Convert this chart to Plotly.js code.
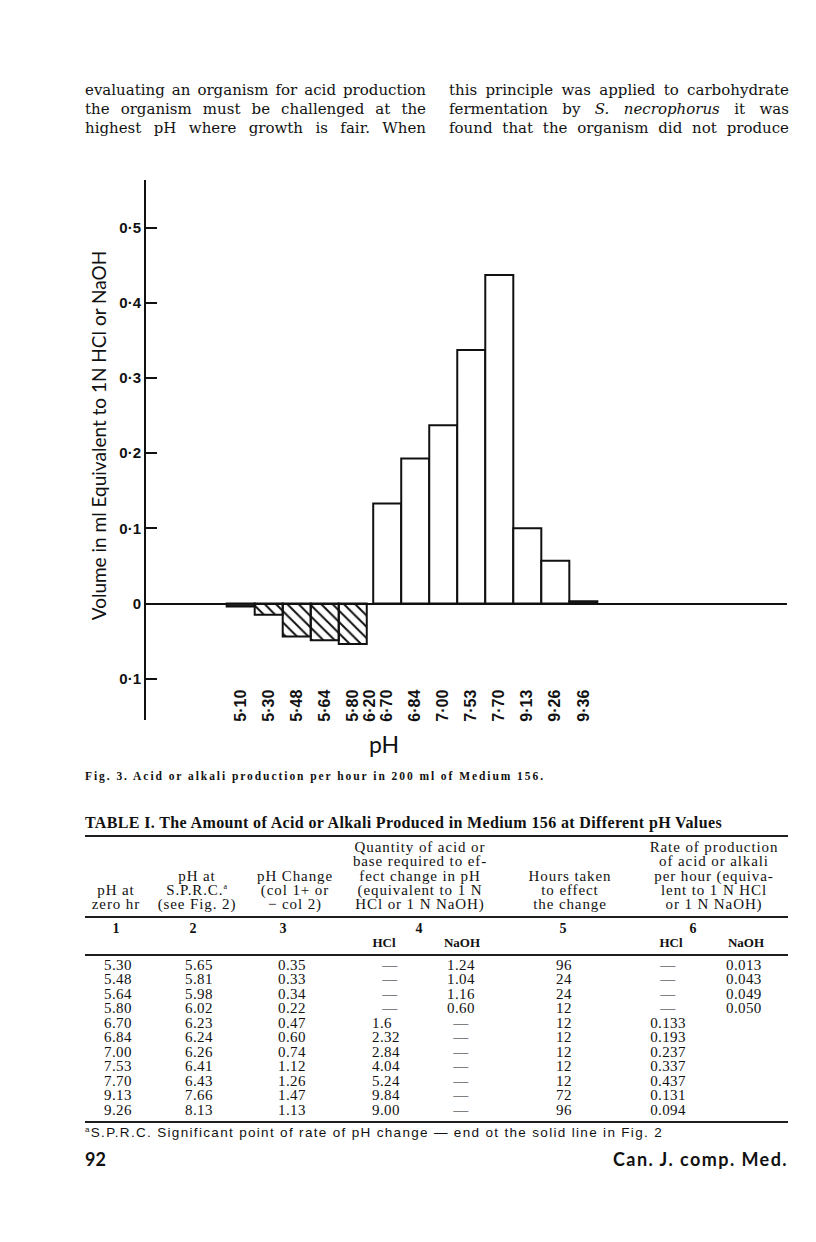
<!DOCTYPE html>
<html>
<head>
<meta charset="utf-8">
<script src="https://cdn.plot.ly/plotly-3.0.1.min.js"></script>
<style>
html,body{margin:0;padding:0;background:#fff;}
#page{position:relative;width:816px;height:1242px;overflow:hidden;background:#fff;}
#chart{position:absolute;left:0;top:0;width:816px;height:1242px;}
#overlay{position:absolute;left:0;top:0;width:816px;height:1242px;pointer-events:none;}
.t{position:absolute;left:0;top:0;white-space:nowrap;color:#111;line-height:1;}
.rule{position:absolute;background:#1e1e1e;}
</style>
</head>
<body>
<div id="page"><div id="chart"></div><div id="overlay"></div></div>
<script>
// ---------- Figure data ----------
const phLabels = ['5·10','5·30','5·48','5·64','5·80','6·70','6·84','7·00','7·53','7·70','9·13','9·26','9·36'];
const acidAlkaliRate = [-0.004,-0.015,-0.044,-0.049,-0.054,0.133,0.193,0.237,0.337,0.437,0.100,0.057,0.003];
const extraTickLabel = '6·20';
const yTickValues = [-0.1,0,0.1,0.2,0.3,0.4,0.5];
const yTickText = ['0·1','0','0·1','0·2','0·3','0·4','0·5'];
const yTitle = 'Volume in ml Equivalent to 1N HCl or NaOH';
const xTitle = 'pH';

// ---------- Table data ----------
const colPhZero   = ['5.30','5.48','5.64','5.80','6.70','6.84','7.00','7.53','7.70','9.13','9.26'];
const colPhSPRC   = ['5.65','5.81','5.98','6.02','6.23','6.24','6.26','6.41','6.43','7.66','8.13'];
const colPhChange = ['0.35','0.33','0.34','0.22','0.47','0.60','0.74','1.12','1.26','1.47','1.13'];
const colQtyHCl   = ['—','—','—','—','1.6','2.32','2.84','4.04','5.24','9.84','9.00'];
const colQtyNaOH  = ['1.24','1.04','1.16','0.60','—','—','—','—','—','—','—'];
const colHours    = ['96','24','24','12','12','12','12','12','12','72','96'];
const colRateHCl  = ['—','—','—','—','0.133','0.193','0.237','0.337','0.437','0.131','0.094'];
const colRateNaOH = ['0.013','0.043','0.049','0.050','','','','','','',''];

// ---------- Chart ----------
const gapAfterNaOH = 0.23;
const positions = phLabels.map((_, i) => i + (i >= 5 ? gapAfterNaOH : 0));
const tickVals = positions.slice(0,5).concat([positions[4] + 0.62], positions.slice(5));
const tickText = phLabels.slice(0,5).concat([extraTickLabel], phLabels.slice(5));

const ink = '#111111';
const isHatched = v => v < 0 && Math.abs(v) >= 0.01;
const isTiny = v => Math.abs(v) < 0.01;
const idx = acidAlkaliRate.map((_, i) => i);
const hatchIdx = idx.filter(i => isHatched(acidAlkaliRate[i]));
const plainIdx = idx.filter(i => !isHatched(acidAlkaliRate[i]));

const traceHatched = {
  type:'bar', x:hatchIdx.map(i => positions[i]), y:hatchIdx.map(i => acidAlkaliRate[i]), width:1,
  marker:{color:'#ffffff', line:{color:ink, width:2},
    pattern:{shape:'\\', fgcolor:ink, size:8, solidity:0.25}},
  hoverinfo:'skip'
};
const tracePlain = {
  type:'bar', x:plainIdx.map(i => positions[i]), y:plainIdx.map(i => acidAlkaliRate[i]), width:1,
  marker:{color:plainIdx.map(i => isTiny(acidAlkaliRate[i]) ? '#2a2a2a' : '#ffffff'), line:{color:ink, width:2}},
  hoverinfo:'skip'
};

const tickFont = {family:'Liberation Sans, Arial, sans-serif', size:15, weight:'bold', color:ink};

const layout = {
  width:816, height:1242,
  margin:{l:146, r:29, t:180, b:522, pad:0},
  paper_bgcolor:'rgba(0,0,0,0)', plot_bgcolor:'rgba(0,0,0,0)',
  showlegend:false, bargap:0, barmode:'overlay',
  xaxis:{range:[-3.38,19.5], showgrid:false, zeroline:false, showline:false, ticks:'',
    tickmode:'array', tickvals:tickVals, ticktext:tickText, tickangle:-90,
    tickfont:{family:'Liberation Sans, Arial, sans-serif', size:16, weight:'bold', color:ink},
    anchor:'free', position:0.064, fixedrange:true},
  yaxis:{range:[-0.1549,0.5632], showgrid:false, zeroline:true, zerolinecolor:ink, zerolinewidth:2,
    showline:true, linecolor:ink, linewidth:2, ticks:'inside', ticklen:11, tickwidth:2, tickcolor:ink,
    tickmode:'array', tickvals:yTickValues, ticktext:yTickText, tickfont:tickFont, fixedrange:true},
  annotations:[
    {text:yTitle, xref:'paper', yref:'paper', x:-0.0735, y:0.527, xanchor:'center', yanchor:'middle',
     textangle:-90, showarrow:false, font:{family:'Lato, Open Sans, sans-serif', size:19, color:ink}},
    {text:xTitle, xref:'paper', yref:'paper', x:0.3715, y:-0.045, xanchor:'center', yanchor:'middle',
     showarrow:false, font:{family:'Lato, Open Sans, sans-serif', size:23, color:ink}}
  ]
};
Plotly.newPlot('chart', [tracePlain, traceHatched], layout, {staticPlot:true, displayModeBar:false});

// ---------- Page text ----------
const overlay = document.getElementById('overlay');
function mk(html, style){
  const el = document.createElement('div');
  el.className = 't';
  el.style.cssText += style || '';
  el.innerHTML = html;
  overlay.appendChild(el);
  return el;
}
function baselineOf(el){
  const s = document.createElement('span');
  s.style.cssText = 'display:inline-block;width:0;height:0;vertical-align:baseline;';
  el.appendChild(s);
  const b = s.offsetTop;
  el.removeChild(s);
  return b;
}
function put(el, x, base, align){
  const b = baselineOf(el);
  el.style.top = (base - b) + 'px';
  const w = el.getBoundingClientRect().width;
  el.style.left = (align === 'center' ? x - w/2 : align === 'right' ? x - w : x) + 'px';
}
function fitLetters(el, target){
  const w = el.getBoundingClientRect().width;
  const n = el.textContent.length;
  el.style.letterSpacing = ((target - w) / Math.max(1, n)) + 'px';
}
function fitWords(el, target){
  const w = el.getBoundingClientRect().width;
  const n = (el.textContent.match(/ /g) || []).length;
  if (n) el.style.wordSpacing = ((target - w) / n) + 'px';
}
function text(html, x, base, style, align, fitW, mode){
  const el = mk(html, style);
  if (fitW) (mode === 'words' ? fitWords : fitLetters)(el, fitW);
  put(el, x, base, align);
  return el;
}
function rule(x1, x2, y, h){
  const r = document.createElement('div');
  r.className = 'rule';
  r.style.left = x1 + 'px'; r.style.width = (x2 - x1) + 'px';
  r.style.top = (y - h/2) + 'px'; r.style.height = h + 'px';
  overlay.appendChild(r);
}

function build(){
  // Paragraph text (two justified columns)
  const para = 'font-family:"DejaVu Serif",serif;font-size:15px;';
  const leftLines = ['evaluating an organism for acid production','the organism must be challenged at the','highest pH where growth is fair. When'];
  const rightLines = ['this principle was applied to carbohydrate','fermentation by <i>S. necrophorus</i> it was','found that the organism did not produce'];
  const paraBase = [95,114,133];
  leftLines.forEach((l,i) => text(l, 85, paraBase[i], para, 'left', 341, 'words'));
  rightLines.forEach((l,i) => text(l, 449, paraBase[i], para, 'left', 340, 'words'));

  // Figure caption
  text('Fig. 3. Acid or alkali production per hour in 200 ml of Medium 156.', 85, 780,
       'font-family:"Liberation Serif",serif;font-weight:bold;font-size:11.5px;', 'left', 460);

  // Table title
  text('TABLE I. The Amount of Acid or Alkali Produced in Medium 156 at Different pH Values', 85, 828,
       'font-family:"Liberation Serif",serif;font-weight:bold;font-size:16px;', 'left', 637);

  rule(85, 788, 836, 2);
  const hdr = 'font-family:"Liberation Serif",serif;font-size:15px;letter-spacing:0.9px;';
  const hb = [852, 866, 880.5, 895, 909];
  const headers = [
    {c:116, lines:['pH at','zero hr']},
    {c:197, lines:['pH at','S.P.R.C.<sup style="font-size:8px;line-height:0">a</sup>','(see Fig. 2)']},
    {c:295, lines:['pH Change','(col 1+ or','− col 2)']},
    {c:420, lines:['Quantity of acid or','base required to ef-','fect change in pH','(equivalent to 1 N','HCl or 1 N NaOH)']},
    {c:570, lines:['Hours taken','to effect','the change']},
    {c:714, lines:['Rate of production','of acid or alkali','per hour (equiva-','lent to 1 N HCl','or 1 N NaOH)']}
  ];
  headers.forEach(h => {
    const off = 5 - h.lines.length;
    h.lines.forEach((l,i) => text(l, h.c, hb[off+i], hdr, 'center'));
  });
  rule(85, 788, 917, 2);
  const num = 'font-family:"Liberation Serif",serif;font-weight:bold;font-size:14px;';
  [[116,'1'],[193,'2'],[283,'3'],[419,'4'],[563,'5'],[693,'6']].forEach(p => text(p[1], p[0], 933, num, 'center'));
  const sub = 'font-family:"Liberation Serif",serif;font-weight:bold;font-size:13px;';
  text('HCl', 384, 947, sub, 'center'); text('NaOH', 462, 947, sub, 'center');
  text('HCl', 671, 947, sub, 'center'); text('NaOH', 746, 947, sub, 'center');
  rule(85, 788, 955, 2);

  const cell = 'font-family:"Liberation Serif",serif;font-size:15px;letter-spacing:0.4px;';
  const rowBase = 970, rowStep = 14.45;
  colPhZero.forEach((_, r) => {
    const b = rowBase + r*rowStep;
    text(colPhZero[r], 118, b, cell, 'center');
    text(colPhSPRC[r], 199, b, cell, 'center');
    text(colPhChange[r], 292, b, cell, 'center');
    if (colQtyHCl[r] === '—') text('—', 390, b, cell, 'center'); else text(colQtyHCl[r], 372, b, cell, 'left');
    text(colQtyNaOH[r], 461, b, cell, 'center');
    text(colHours[r], 556, b, cell, 'left');
    text(colRateHCl[r], 668, b, cell, 'center');
    if (colRateNaOH[r]) text(colRateNaOH[r], 726, b, cell, 'left');
  });
  rule(85, 788, 1122, 2.5);

  text('<sup style="font-size:8px;line-height:0">a</sup>S.P.R.C. Significant point of rate of pH change — end ot the solid line in Fig. 2',
       85, 1137, 'font-family:"Liberation Sans",sans-serif;font-size:13.5px;', 'left', 578);

  const foot = 'font-family:Lato,sans-serif;font-weight:bold;font-size:18px;';
  text('92', 85, 1166, foot, 'left');
  text('Can. J. comp. Med.', 788, 1166, foot, 'right', 175);
}
if (document.fonts && document.fonts.ready) document.fonts.ready.then(build); else build();
</script>
</body>
</html>
